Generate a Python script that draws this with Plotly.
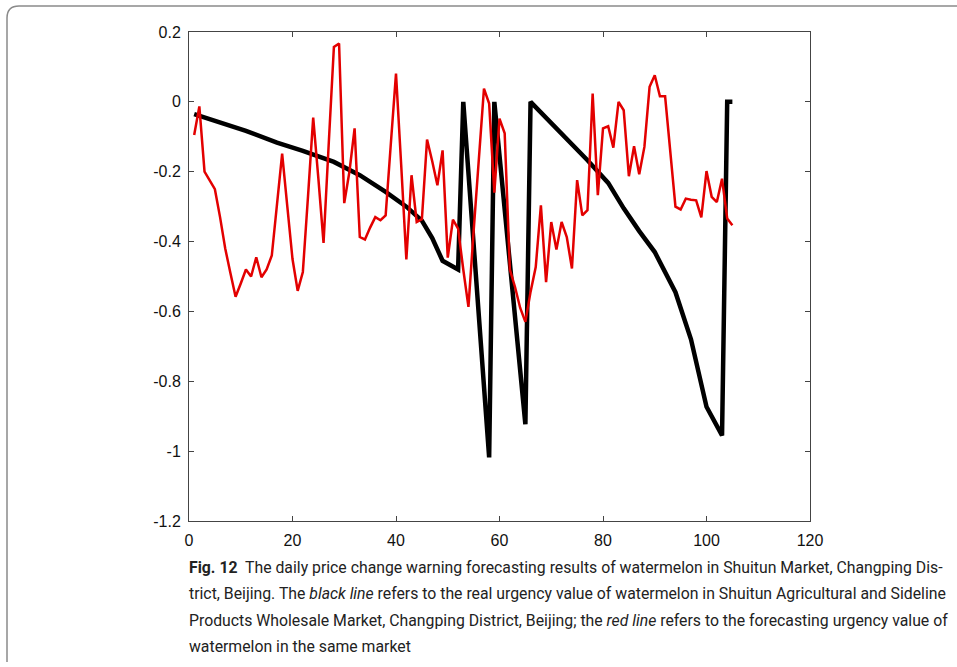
import plotly.graph_objects as go

# ---- data ----
red_x = list(range(1, 106))
red_y = [-0.095, -0.013, -0.200, -0.225, -0.250, -0.330, -0.420, -0.490, -0.558, -0.520,
         -0.480, -0.500, -0.445, -0.502, -0.480, -0.440, -0.300, -0.148, -0.300, -0.450,
         -0.541, -0.487, -0.270, -0.045, -0.220, -0.404, -0.120, 0.157, 0.167, -0.290,
         -0.200, -0.076, -0.387, -0.394, -0.360, -0.330, -0.339, -0.325, -0.120, 0.081,
         -0.180, -0.451, -0.210, -0.344, -0.336, -0.108, -0.170, -0.239, -0.139, -0.446,
         -0.337, -0.363, -0.480, -0.587, -0.370, -0.170, 0.038, -0.005, -0.260, -0.048,
         -0.090, -0.480, -0.530, -0.590, -0.630, -0.544, -0.473, -0.296, -0.516, -0.344,
         -0.423, -0.344, -0.387, -0.477, -0.224, -0.325, -0.310, 0.024, -0.267, -0.076,
         -0.070, -0.131, 0.000, -0.024, -0.213, -0.127, -0.207, -0.129, 0.043, 0.076,
         0.016, 0.016, -0.140, -0.300, -0.308, -0.277, -0.280, -0.282, -0.331, -0.198,
         -0.272, -0.287, -0.220, -0.334, -0.353]

black_x = [1, 6, 11, 17, 22, 28, 33, 38, 42, 45, 47, 49, 52, 53, 58, 59, 65, 66,
           70, 74, 77, 81, 84, 87, 90, 94, 97, 100, 103, 104, 105]
black_y = [-0.035, -0.058, -0.083, -0.117, -0.140, -0.172, -0.210, -0.258, -0.300, -0.340,
           -0.390, -0.455, -0.480, 0.000, -1.018, 0.000, -0.923, 0.000,
           -0.060, -0.120, -0.167, -0.232, -0.305, -0.370, -0.430, -0.545, -0.680, -0.873,
           -0.955, 0.000, 0.000]

x_ticks = [0, 20, 40, 60, 80, 100, 120]
y_ticks = [0.2, 0, -0.2, -0.4, -0.6, -0.8, -1, -1.2]
y_tick_text = ["0.2", "0", "-0.2", "-0.4", "-0.6", "-0.8", "-1", "-1.2"]

caption_lines = [
    "<b>Fig. 12</b>  The daily price change warning forecasting results of watermelon in Shuitun Market, Changping Dis-",
    "trict, Beijing. The <i>black line</i> refers to the real urgency value of watermelon in Shuitun Agricultural and Sideline",
    "Products Wholesale Market, Changping District, Beijing; the <i>red line</i> refers to the forecasting urgency value of",
    "watermelon in the same market",
]

# ---- figure ----
W, H = 957, 667
ML, MR, MT, MB = 189, 147, 32, 146
PW = W - ML - MR
PH = H - MT - MB


def px2paper(px, py):
    return (px - ML) / PW, (H - MB - py) / PH


fig = go.Figure()
fig.add_trace(go.Scatter(x=black_x, y=black_y, mode="lines",
                         line=dict(color="#000000", width=4.5), showlegend=False))
fig.add_trace(go.Scatter(x=red_x, y=red_y, mode="lines",
                         line=dict(color="#e30000", width=2.5), showlegend=False))

axis_common = dict(showgrid=False, zeroline=False, showline=True, linecolor="#444444",
                   linewidth=1, mirror="ticks", ticks="inside", ticklen=5,
                   tickcolor="#444444",
                   tickfont=dict(family="Liberation Sans, Arial, sans-serif", size=16, color="#111111"))

fig.update_xaxes(range=[0, 120], tickvals=x_ticks, ticktext=[str(v) for v in x_ticks],
                 ticklabelstandoff=5, **axis_common)
fig.update_yaxes(range=[-1.2, 0.2], tickvals=y_ticks, ticktext=y_tick_text,
                 ticklabelstandoff=4, **axis_common)

# caption
line_y = [567, 593, 620, 646]
for txt, ly in zip(caption_lines, line_y):
    xp, yp = px2paper(187, ly)
    fig.add_annotation(text=txt, xref="paper", yref="paper", x=xp, y=yp,
                       xanchor="left", yanchor="middle", showarrow=False,
                       font=dict(family="Roboto, sans-serif", size=15.8,
                                 color="#222222"))

# rounded outer border
x0, y0 = px2paper(7, 662)
x1, y1 = px2paper(7, 18)
xq, yq = px2paper(7, 6)
x2, y2 = px2paper(19, 6)
x3, y3 = px2paper(1000, 6)
path = f"M {x0},{y0} L {x1},{y1} Q {xq},{yq} {x2},{y2} L {x3},{y3}"
fig.add_shape(type="path", path=path, xref="paper", yref="paper",
              line=dict(color="#8a8a8a", width=1.5), layer="below")

fig.update_layout(width=W, height=H, margin=dict(l=ML, r=MR, t=MT, b=MB),
                  plot_bgcolor="white", paper_bgcolor="white")

fig.write_html("out.html")
